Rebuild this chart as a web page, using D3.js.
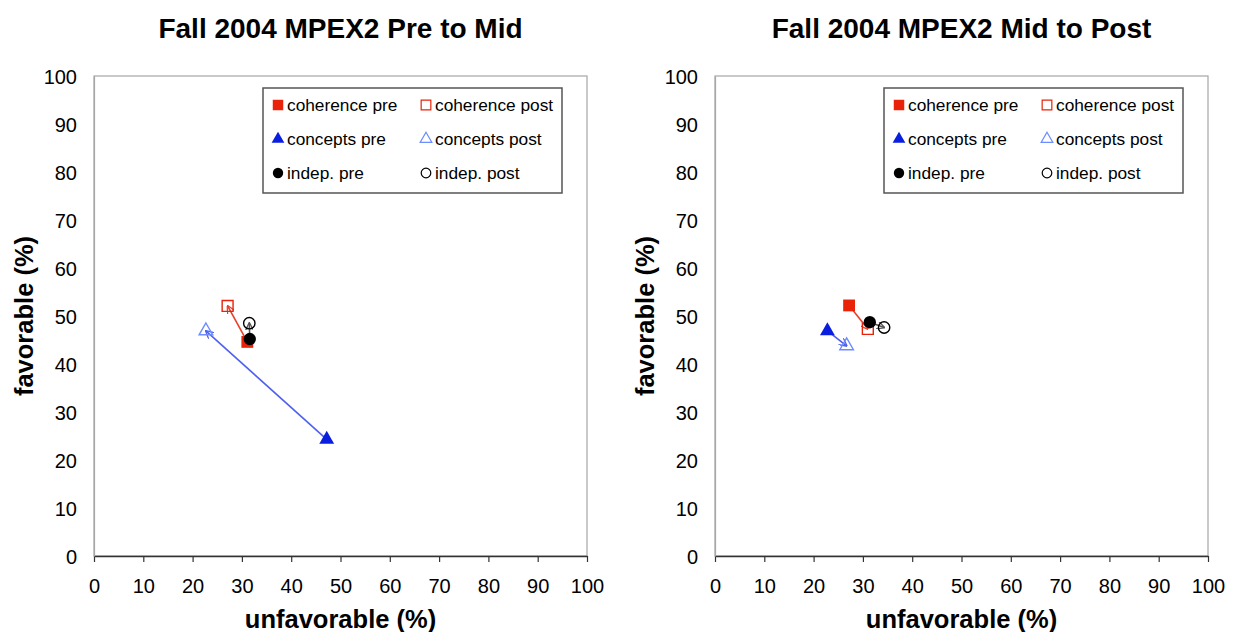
<!DOCTYPE html>
<html lang="en">
<head>
<meta charset="UTF-8">
<title>MPEX2 Fall 2004</title>
<style>
  body { margin: 0; background: #fff; }
  svg { font-family: "Liberation Sans", Arial, sans-serif; }
  .title { font-size: 28px; font-weight: bold; text-anchor: middle; }
  .alabel { font-size: 25.5px; font-weight: bold; text-anchor: middle; }
  .tick text { font-size: 20px; fill: #000; }
  .legend text { font-size: 17.3px; fill: #000; }
</style>
</head>
<body>
<svg id="chart" width="1233" height="632"></svg>
<script src="https://cdn.jsdelivr.net/npm/d3@7"></script>
<script>
// data (percent), order: coherence, concepts, indep.
var cats = ["coherence", "concepts", "indep."];
var ticks = [0, 10, 20, 30, 40, 50, 60, 70, 80, 90, 100];

// Pre to Mid
var p1PreUnfav = [31.1, 47.2, 31.6];
var p1PreFav = [44.6, 24.3, 45.2];
var p1PostUnfav = [27.1, 22.7, 31.5];
var p1PostFav = [52.1, 46.9, 48.5];

// Mid to Post
var p2PreUnfav = [27.2, 22.8, 31.4];
var p2PreFav = [52.2, 46.9, 48.7];
var p2PostUnfav = [31.0, 26.7, 34.3];
var p2PostFav = [47.3, 43.8, 47.6];

var panels = [
  { title: "Fall 2004 MPEX2 Pre to Mid", x0: 94, pu: p1PreUnfav, pf: p1PreFav, qu: p1PostUnfav, qf: p1PostFav },
  { title: "Fall 2004 MPEX2 Mid to Post", x0: 715, pu: p2PreUnfav, pf: p2PreFav, qu: p2PostUnfav, qf: p2PostFav }
];

var preCol = ["#e8230a", "#0a1ee0", "#000"];
var postCol = ["#e8230a", "#6d8cff", "#000"];
var arrowCol = ["#e8402a", "#4f60f0", "#555"];
var shapes = [d3.symbolSquare, d3.symbolTriangle, d3.symbolCircle];
var sizes = [140, 95, 120];
var legSizes = [110, 70, 85];

var svg = d3.select("#chart");
var W = 493, plotTop = 76, plotBottom = 556;

var defs = svg.append("defs");
arrowCol.forEach(function (c, i) {
  defs.append("marker")
    .attr("id", "arr" + i)
    .attr("viewBox", "0 0 10 10")
    .attr("refX", 9).attr("refY", 5)
    .attr("markerWidth", 8).attr("markerHeight", 8)
    .attr("markerUnits", "userSpaceOnUse")
    .attr("orient", "auto")
    .append("path")
    .attr("d", "M0,0 L10,5 L0,10")
    .attr("fill", "none")
    .attr("stroke", c)
    .attr("stroke-width", 1.6);
});

panels.forEach(function (p) {
  var x = d3.scaleLinear().domain([0, 100]).range([p.x0, p.x0 + W]);
  var y = d3.scaleLinear().domain([0, 100]).range([plotBottom, plotTop]);
  var g = svg.append("g");

  // frame
  g.append("rect")
    .attr("x", x(0)).attr("y", y(100))
    .attr("width", W).attr("height", plotBottom - plotTop)
    .attr("fill", "none").attr("stroke", "#a6a6a6").attr("stroke-width", 1.2);

  // x axis
  var xa = g.append("g")
    .attr("transform", "translate(0," + plotBottom + ")")
    .call(d3.axisBottom(x).tickValues(ticks).tickSize(6).tickSizeOuter(0).tickPadding(17));
  xa.select(".domain").attr("stroke", "#333").attr("stroke-width", 1.3);
  xa.selectAll(".tick line").attr("stroke", "#333").attr("stroke-width", 1.2);

  // y axis
  var ya = g.append("g")
    .attr("transform", "translate(" + x(0) + ",0)")
    .call(d3.axisLeft(y).tickValues(ticks).tickSize(0).tickPadding(17));
  ya.select(".domain").attr("stroke", "#a6a6a6").attr("stroke-width", 1.2);
  ya.selectAll(".tick text").attr("dy", "0.35em");

  // titles
  g.append("text").attr("class", "title")
    .attr("x", x(50)).attr("y", 38).text(p.title);
  g.append("text").attr("class", "alabel")
    .attr("x", x(50)).attr("y", 628).text("unfavorable (%)");
  g.append("text").attr("class", "alabel")
    .attr("transform", "translate(" + (x(0) - 61) + "," + y(50) + ") rotate(-90)")
    .attr("y", 0).text("favorable (%)");

  // arrows
  g.selectAll(".arrow").data(cats).enter().append("line")
    .attr("x1", function (d, i) { return x(p.pu[i]); })
    .attr("y1", function (d, i) { return y(p.pf[i]); })
    .attr("x2", function (d, i) { return x(p.qu[i]); })
    .attr("y2", function (d, i) { return y(p.qf[i]); })
    .attr("stroke", function (d, i) { return arrowCol[i]; })
    .attr("stroke-width", 1.6)
    .attr("marker-end", function (d, i) { return "url(#arr" + i + ")"; });

  // post markers (open)
  g.selectAll(".post").data(cats).enter().append("path")
    .attr("transform", function (d, i) { return "translate(" + x(p.qu[i]) + "," + y(p.qf[i]) + ")"; })
    .attr("d", function (d, i) { return d3.symbol(shapes[i], sizes[i] * 0.85)(); })
    .attr("fill", "none")
    .attr("stroke", function (d, i) { return postCol[i]; })
    .attr("stroke-width", 1.4);

  // pre markers (filled)
  g.selectAll(".pre").data(cats).enter().append("path")
    .attr("transform", function (d, i) { return "translate(" + x(p.pu[i]) + "," + y(p.pf[i]) + ")"; })
    .attr("d", function (d, i) { return d3.symbol(shapes[i], sizes[i])(); })
    .attr("fill", function (d, i) { return preCol[i]; });

  // legend
  var lx = x(0) + 169, ly = 88;
  var lg = g.append("g").attr("class", "legend");
  lg.append("rect")
    .attr("x", lx).attr("y", ly).attr("width", 299).attr("height", 105)
    .attr("fill", "#fff").attr("stroke", "#555").attr("stroke-width", 1.5);
  cats.forEach(function (c, i) {
    var ry = ly + 17 + i * 34;
    lg.append("path")
      .attr("transform", "translate(" + (lx + 15) + "," + ry + ")")
      .attr("d", d3.symbol(shapes[i], legSizes[i])())
      .attr("fill", preCol[i]);
    lg.append("text").attr("x", lx + 24).attr("y", ry + 6).text(c + " pre");
    lg.append("path")
      .attr("transform", "translate(" + (lx + 163) + "," + ry + ")")
      .attr("d", d3.symbol(shapes[i], legSizes[i] * 0.85)())
      .attr("fill", "none").attr("stroke", postCol[i]).attr("stroke-width", 1.2);
    lg.append("text").attr("x", lx + 172).attr("y", ry + 6).text(c + " post");
  });
});
</script>
</body>
</html>
